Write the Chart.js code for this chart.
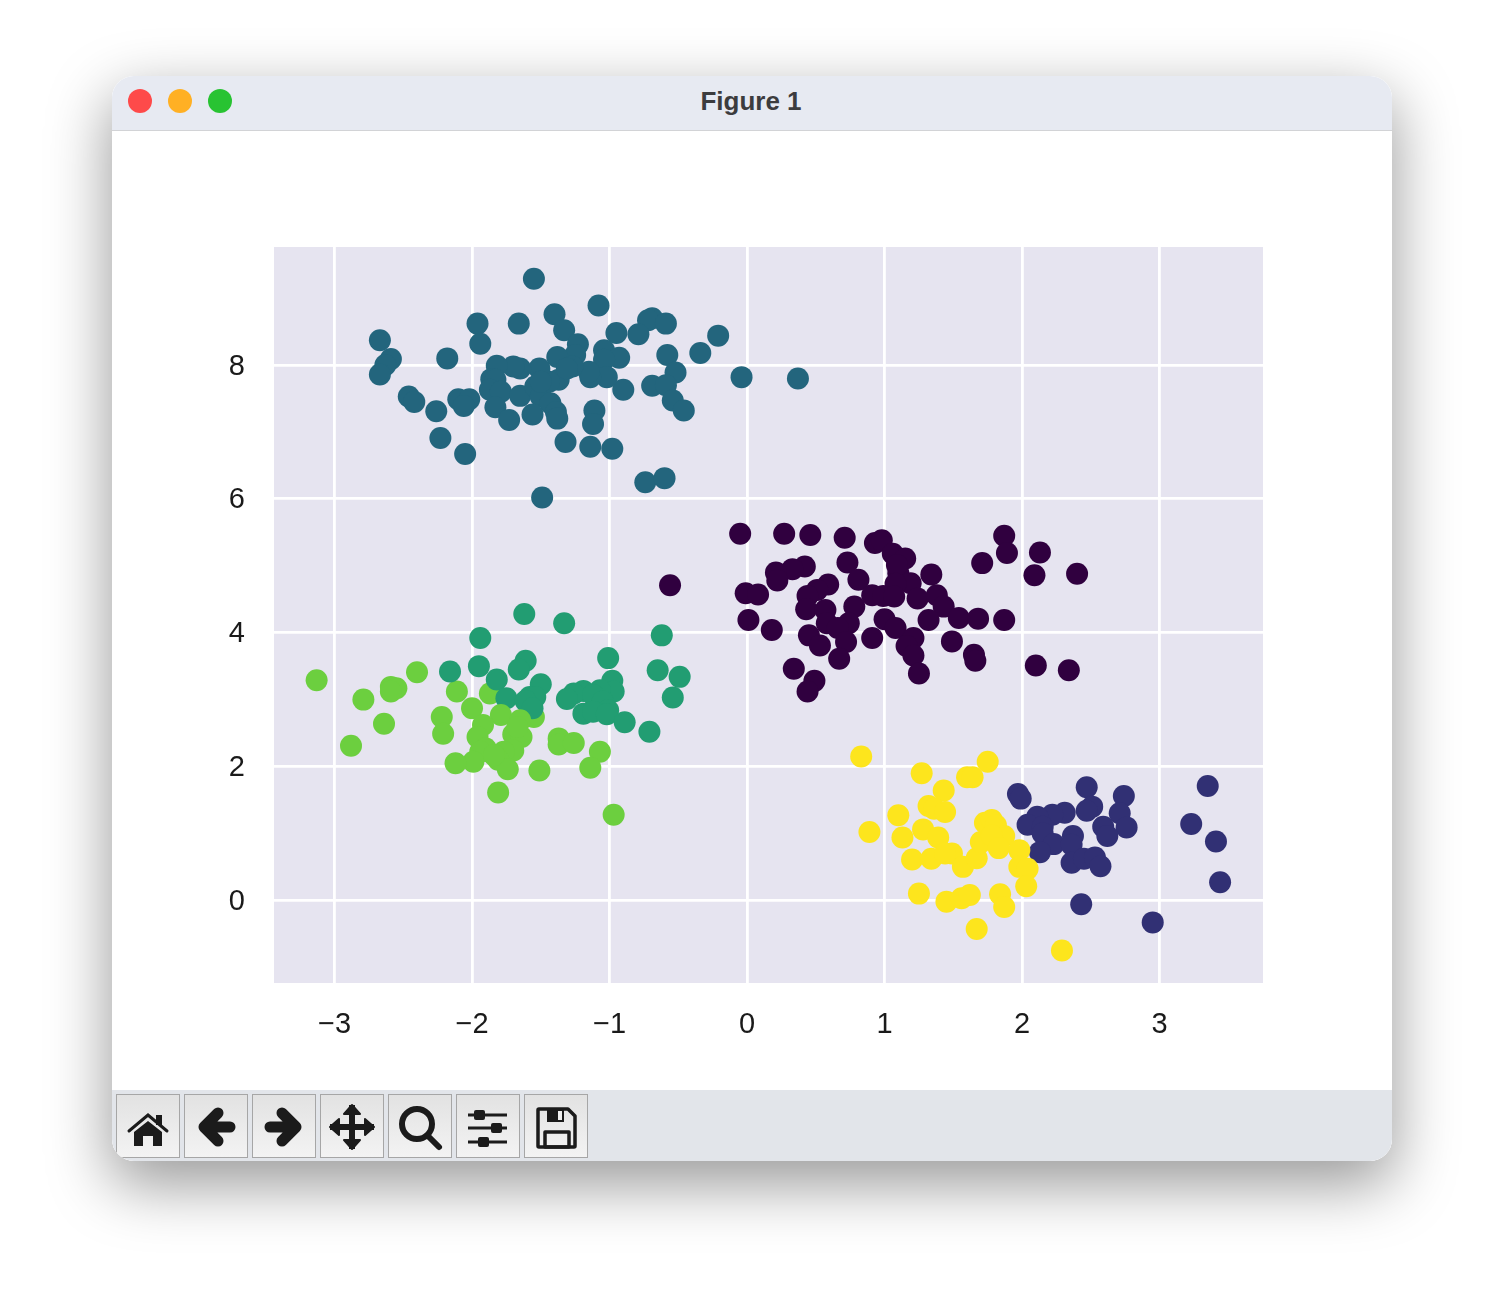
<!DOCTYPE html>
<html lang="en">
<head>
<meta charset="UTF-8">
<title>Figure 1</title>
<style>
    * { margin: 0; padding: 0; box-sizing: border-box; }
    html, body { width: 1504px; height: 1312px; background: #fff; overflow: hidden; }
    .window {
        position: absolute; left: 112px; top: 76px; width: 1280px; height: 1085px;
        background: #fff; border-radius: 22px; overflow: hidden;
    }
    .shadow {
        position: absolute; left: 112px; top: 76px; width: 1280px; height: 1085px;
        border-radius: 22px; box-shadow: 0 22px 62px 2px rgba(0,0,0,0.40);
    }
    .titlebar {
        position: absolute; left: 0; top: 0; width: 100%; height: 55px;
        background: #e7eaf2; border-bottom: 1px solid #d2d3d6;
        font: bold 26px "Liberation Sans", Arial, sans-serif; color: #3c3c3e;
        text-align: center; line-height: 50px; padding-right: 2px;
    }
    .light { position: absolute; top: 13px; width: 24px; height: 24px; border-radius: 50%; }
    #chart { position: absolute; left: 0; top: 55px; }
    .toolbar { position: absolute; left: 0; top: 1014px; width: 100%; height: 71px; background: #e2e5ea; }
    .btn {
        position: absolute; top: 4px; width: 64px; height: 64px;
        border: 1px solid #a6a6a6; background: linear-gradient(#e2e2e2, #f3f3f3);
    }
    .btn svg { display: block; width: 62px; height: 62px; }
</style>
<script src="https://cdn.jsdelivr.net/npm/chart.js"></script>
</head>
<body>
<div class="shadow"></div>
<div class="window">
    <div class="titlebar">
        <span class="light" style="left:16px;background:#fe4a4a"></span>
        <span class="light" style="left:56px;background:#ffb024"></span>
        <span class="light" style="left:96px;background:#28c332"></span>
        Figure 1
    </div>
    <canvas id="chart" width="1280" height="959"></canvas>
    <div class="toolbar">
        <div class="btn" style="left:4px"><svg viewBox="0 0 62 62" fill="#1b1b1b">
            <path d="M12 36 L31 20 L50 36" fill="none" stroke="#1b1b1b" stroke-width="3" stroke-linecap="round"/>
            <path d="M17 37 L31 26 L45 37 V51 H36 V41 H26 V51 H17 Z"/><rect x="39" y="20" width="6" height="10"/></svg></div>
        <div class="btn" style="left:72px"><svg viewBox="0 0 62 62">
            <path d="M45 32 H20 M33 18 L19 32 L33 46" fill="none" stroke="#1b1b1b" stroke-width="11" stroke-linecap="round" stroke-linejoin="round"/></svg></div>
        <div class="btn" style="left:140px"><svg viewBox="0 0 62 62">
            <path d="M17 32 H42 M29 18 L43 32 L29 46" fill="none" stroke="#1b1b1b" stroke-width="11" stroke-linecap="round" stroke-linejoin="round"/></svg></div>
        <div class="btn" style="left:208px"><svg viewBox="0 0 62 62" fill="#1b1b1b" stroke="#1b1b1b" stroke-width="2" stroke-linejoin="round">
            <path d="M31 10 V54 M9 32 H53" stroke-width="6"/>
            <path d="M31 10 L23 19 H39 Z M31 54 L23 45 H39 Z M9 32 L18 24 V40 Z M53 32 L44 24 V40 Z"/></svg></div>
        <div class="btn" style="left:276px"><svg viewBox="0 0 62 62" fill="none" stroke="#1b1b1b">
            <circle cx="28" cy="29" r="15" stroke-width="6"/><path d="M39 41 L50 52" stroke-width="6" stroke-linecap="round"/></svg></div>
        <div class="btn" style="left:344px"><svg viewBox="0 0 62 62" fill="#1b1b1b">
            <path d="M11 20 H50 M11 33 H50 M11 47 H50" stroke="#1b1b1b" stroke-width="3"/>
            <rect x="17" y="15" width="11" height="10" rx="2"/><rect x="34" y="28" width="11" height="10" rx="2"/><rect x="21" y="42" width="11" height="10" rx="2"/></svg></div>
        <div class="btn" style="left:412px"><svg viewBox="0 0 62 62" fill="none" stroke="#1b1b1b" stroke-width="3.5" stroke-linejoin="round">
            <path d="M14 14 H43 L50 21 V51 Q50 52 49 52 H14 Q13 52 13 51 V15 Q13 14 14 14 Z"/>
            <rect x="22" y="14" width="17" height="13" fill="#1b1b1b" stroke="none"/><rect x="33" y="16" width="4" height="9" fill="#f0f0f0" stroke="none"/>
            <rect x="20" y="37" width="24" height="15"/></svg></div>
    </div>
</div>

<script>
    // Values, one list per cluster
    const xTicks = [-3, -2, -1, 0, 1, 2, 3];
    const yTicks = [0, 2, 4, 6, 8];

    const purple = [[-0.05,5.48],[0.27,5.48],[0.46,5.46],[0.71,5.42],[0.93,5.34],[0.98,5.38],[1.06,5.18],[1.15,5.11],
        [1.87,5.45],[1.89,5.19],[2.13,5.20],[1.71,5.04],[2.40,4.88],[2.09,4.86],[1.34,4.87],[0.73,5.05],[0.81,4.79],
        [1.10,4.89],[1.09,5.01],[0.42,4.99],[0.33,4.95],[0.21,4.90],[0.22,4.78],[0.59,4.72],[0.51,4.64],[0.44,4.55],
        [1.19,4.74],[1.08,4.73],[-0.01,4.59],[0.08,4.57],[0.91,4.56],[0.99,4.55],[1.07,4.54],[1.24,4.51],[1.38,4.56],
        [1.43,4.39],[0.78,4.39],[0.43,4.35],[0.57,4.34],[0.01,4.19],[0.18,4.04],[1.32,4.19],[1.54,4.22],[1.68,4.21],
        [1.87,4.19],[1.00,4.20],[1.08,4.07],[0.74,4.14],[0.58,4.14],[0.66,4.07],[0.45,3.96],[0.53,3.81],[0.72,3.86],
        [0.91,3.92],[1.21,3.92],[1.16,3.80],[1.21,3.66],[1.49,3.87],[1.65,3.67],[1.66,3.58],[1.25,3.39],[0.67,3.61],
        [0.34,3.46],[0.49,3.28],[0.44,3.12],[2.10,3.51],[2.34,3.44],[-0.56,4.71]];

    const teal = [[-1.55,9.29],[-1.08,8.89],[-1.40,8.76],[-1.33,8.52],[-1.96,8.62],[-1.66,8.62],[-1.94,8.32],[-2.67,8.37],
        [-2.59,8.09],[-2.63,8.00],[-2.67,7.86],[-2.18,8.10],[-0.95,8.48],[-1.23,8.31],[-1.25,8.15],[-1.38,8.12],
        [-1.04,8.22],[-0.93,8.11],[-1.04,8.08],[-0.69,8.70],[-0.72,8.67],[-0.59,8.62],[-0.79,8.46],[-0.21,8.44],
        [-0.58,8.15],[-0.34,8.18],[-0.52,7.89],[-0.04,7.82],[-0.69,7.69],[-0.59,7.70],[-0.54,7.47],[-0.46,7.32],
        [-0.90,7.63],[-1.02,7.82],[-1.14,7.82],[-1.15,7.90],[-1.27,7.98],[-1.37,7.78],[-1.44,7.75],[-1.51,7.95],
        [-1.65,7.95],[-1.70,7.98],[-1.82,7.99],[-1.86,7.79],[-1.83,7.78],[-1.87,7.63],[-1.79,7.60],[-1.83,7.37],
        [-1.73,7.18],[-1.65,7.54],[-1.54,7.68],[-1.50,7.53],[-1.43,7.43],[-1.39,7.30],[-1.38,7.20],[-1.56,7.26],
        [-1.11,7.32],[-1.12,7.12],[-1.32,6.85],[-1.14,6.78],[-0.98,6.75],[-0.74,6.25],[-0.60,6.31],[-1.49,6.02],
        [-2.46,7.53],[-2.42,7.45],[-2.26,7.31],[-2.10,7.49],[-2.02,7.49],[-2.06,7.39],[-2.23,6.91],[-2.05,6.67],
        [-1.31,7.95],[-1.50,7.75],[0.37,7.80]];

    const green = [[-1.62,4.28],[-1.33,4.14],[-1.94,3.92],[-0.62,3.96],[-1.01,3.62],[-0.65,3.44],[-0.49,3.34],[-0.54,3.03],
        [-1.61,3.58],[-1.66,3.45],[-1.95,3.50],[-2.16,3.42],[-1.82,3.30],[-1.50,3.23],[-1.75,3.02],[-1.58,3.04],
        [-1.54,3.04],[-1.61,2.98],[-1.56,2.87],[-0.98,3.28],[-0.97,3.12],[-1.07,3.14],[-1.19,3.13],[-1.26,3.09],
        [-1.31,3.01],[-1.12,3.07],[-1.05,2.97],[-1.01,2.84],[-1.19,2.79],[-1.12,2.82],[-1.02,2.78],[-0.89,2.66],[-0.71,2.52]];

    // lime points lying under the green ones, then the ones lying over them
    const limeBack = [[-3.13,3.29],[-2.79,3.00],[-2.64,2.64],[-2.88,2.31],[-2.40,3.41],[-2.59,3.19],[-2.55,3.17],[-2.59,3.12],
        [-2.11,3.12],[-1.87,3.09],[-2.22,2.74],[-2.21,2.49],[-2.00,2.87],[-1.55,2.74],[-1.37,2.42],[-1.37,2.33],
        [-1.26,2.35],[-1.07,2.22],[-1.14,1.98],[-1.81,1.61],[-0.97,1.28],[-1.51,1.94]];
    const limeFront = [[-1.79,2.77],[-1.65,2.69],[-1.92,2.62],[-1.96,2.44],[-1.70,2.48],[-1.64,2.44],[-1.90,2.27],[-1.94,2.22],
        [-1.99,2.07],[-2.12,2.05],[-1.70,2.24],[-1.77,2.22],[-1.81,2.10],[-1.74,1.96],[-1.84,2.17],[-1.67,2.59]];

    const yellow = [[0.83,2.15],[1.27,1.90],[1.75,2.07],[1.60,1.84],[1.64,1.84],[1.43,1.64],[1.32,1.41],[1.36,1.37],[1.44,1.32],
        [1.10,1.27],[0.89,1.02],[1.28,1.06],[1.13,0.94],[1.39,0.94],[1.20,0.61],[1.34,0.62],[1.49,0.70],[1.44,0.70],
        [1.57,0.50],[1.67,0.63],[1.70,0.87],[1.73,1.16],[1.78,1.20],[1.81,1.12],[1.87,0.96],[1.78,0.97],[1.83,0.78],
        [1.98,0.75],[1.98,0.50],[2.04,0.47],[2.03,0.21],[1.25,0.10],[1.45,-0.02],[1.56,0.03],[1.62,0.08],[1.84,0.09],
        [1.87,-0.10],[1.67,-0.43],[2.29,-0.75]];

    const navy = [[1.97,1.59],[1.99,1.52],[2.47,1.69],[2.74,1.56],[2.51,1.40],[2.47,1.34],[2.31,1.31],[2.22,1.28],[2.11,1.25],
        [2.71,1.30],[2.04,1.13],[2.15,1.10],[2.59,1.10],[2.76,1.09],[2.62,0.96],[2.37,0.96],[2.15,1.00],[2.23,0.84],
        [2.13,0.72],[2.36,0.83],[2.36,0.56],[2.45,0.62],[2.53,0.64],[2.57,0.51],[3.35,1.71],[3.23,1.14],[3.41,0.88],
        [3.44,0.27],[2.43,-0.06],[2.95,-0.33]];

    const toPoints = list => list.map(p => ({ x: p[0], y: p[1] }));
    const series = (list, color) => ({
        data: toPoints(list),
        backgroundColor: color,
        borderWidth: 0,
        pointRadius: 11,
        pointHoverRadius: 11
    });
    const minusLabel = v => String(v).replace('-', '\u2212');

    // fills the plot area, matplotlib seaborn style
    const plotBackground = {
        id: 'plotBackground',
        beforeDraw(chart) {
            const a = chart.chartArea;
            chart.ctx.fillStyle = '#e6e4f0';
            chart.ctx.fillRect(a.left, a.top, a.width, a.height);
        }
    };

    const tickFont = { family: '"Liberation Sans", Arial, sans-serif', size: 29 };

    new Chart(document.getElementById('chart'), {
        type: 'scatter',
        plugins: [plotBackground],
        data: {
            // first dataset ends up on top
            datasets: [
                series(yellow, '#fde51d'),
                series(purple, '#30003f'),
                series(teal, '#23657d'),
                series(limeFront, '#6ccf3f'),
                series(green, '#229d72'),
                series(limeBack, '#6ccf3f'),
                series(navy, '#313074')
            ]
        },
        options: {
            responsive: false,
            animation: false,
            layout: { padding: { left: 0, right: 129, top: 116, bottom: 0 } },
            plugins: { legend: { display: false }, tooltip: { enabled: false } },
            scales: {
                x: {
                    type: 'linear',
                    min: -3.44,
                    max: 3.752,
                    afterFit: s => { s.height = 107; },
                    afterBuildTicks: s => { s.ticks = xTicks.map(v => ({ value: v })); },
                    border: { display: false },
                    grid: { color: '#fff', lineWidth: 2.8, drawTicks: false },
                    ticks: { color: '#1a1a1a', font: tickFont, padding: 25, maxRotation: 0, autoSkip: false, callback: minusLabel }
                },
                y: {
                    type: 'linear',
                    min: -1.236,
                    max: 9.765,
                    afterFit: s => { s.width = 162; },
                    afterBuildTicks: s => { s.ticks = yTicks.map(v => ({ value: v })); },
                    border: { display: false },
                    grid: { color: '#fff', lineWidth: 2.8, drawTicks: false },
                    ticks: { color: '#1a1a1a', font: tickFont, padding: 29, labelOffset: 1.5, autoSkip: false, callback: minusLabel }
                }
            }
        }
    });
</script>
</body>
</html>
